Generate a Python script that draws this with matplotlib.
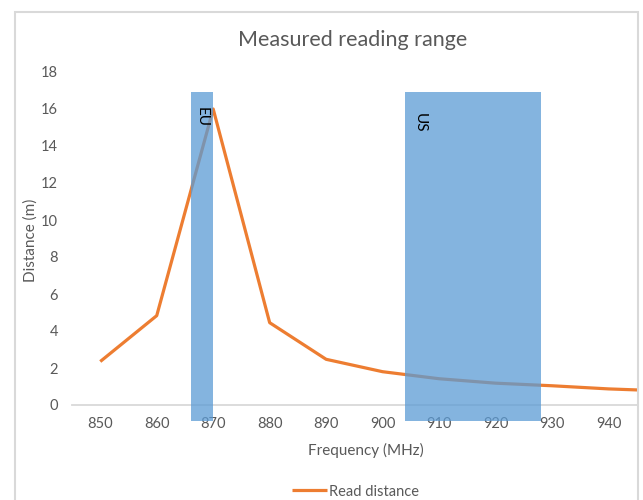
import matplotlib
matplotlib.use("Agg")
import matplotlib.pyplot as plt
from matplotlib.patches import Rectangle

# ---- data ----
freq_mhz = [850, 860, 870, 880, 890, 900, 910, 920, 930, 940, 950]
read_distance = [2.35, 4.83, 16.0, 4.45, 2.47, 1.8, 1.42, 1.18, 1.04, 0.87, 0.76]

band_names = ["EU", "US"]
band_start = [866, 904]
band_end = [870, 928]
band_low = [-0.88, -0.88]
band_high = [16.9, 16.9]
label_x = [868.0, 906.6]
label_y = [16.1, 15.8]

x_ticks = [850, 860, 870, 880, 890, 900, 910, 920, 930, 940]
y_ticks = [0, 2, 4, 6, 8, 10, 12, 14, 16, 18]

plt.rcParams["font.family"] = ["Lato", "DejaVu Sans"]
GREY = "#595959"

fig = plt.figure(figsize=(6.43, 5.0), dpi=100)
# chart-area border like the Excel frame
fig.patches.append(Rectangle((0.023, -0.1), 0.969, 1.076, transform=fig.transFigure,
                             fill=False, edgecolor="#D9D9D9", linewidth=1.5))

ax = fig.add_axes([0.112, 0.1456, 0.880, 0.7252])
ax.plot(freq_mhz, read_distance, color="#ED7D31", linewidth=2.3, zorder=2,
        label="Read distance", solid_capstyle="butt")

for name, s, e, lo, hi, lx, ly in zip(band_names, band_start, band_end, band_low,
                                      band_high, label_x, label_y):
    ax.bar(s, hi - lo, width=e - s, bottom=lo, align="edge", color="#5B9BD5",
           alpha=0.75, linewidth=0, zorder=3)
    ax.text(lx, ly, name, rotation=-90, ha="center", va="top", fontsize=11,
            color="black", zorder=4)

ax.set_xlim(845, 945.2)
ax.set_ylim(-1.2, 18.4)
ax.set_xticks(x_ticks)
ax.set_yticks(y_ticks)
for sp in ("top", "right", "left"):
    ax.spines[sp].set_visible(False)
ax.spines["bottom"].set_position(("data", 0))
ax.spines["bottom"].set_color("#D9D9D9")
ax.spines["bottom"].set_linewidth(1.3)
ax.spines["bottom"].set_zorder(1)
ax.tick_params(axis="x", length=0, pad=9.0, labelsize=10.5, labelcolor=GREY)
ax.tick_params(axis="y", length=0, pad=10, labelsize=10.5, labelcolor=GREY)

ax.set_xlabel("Frequency (MHz)", fontsize=11, color=GREY)
ax.xaxis.set_label_coords(0.569, 0.114, transform=fig.transFigure)
ax.set_ylabel("Distance (m)", fontsize=11, color=GREY)
ax.yaxis.set_label_coords(0.059, 0.52, transform=fig.transFigure)

fig.text(0.548, 0.92, "Measured reading range", ha="center", va="center",
         fontsize=15.5, color=GREY)

fig.legend(loc="center", bbox_to_anchor=(0.553, 0.017), frameon=False, fontsize=10.5,
           labelcolor=GREY, handlelength=2.4, handletextpad=0.1)

fig.savefig("out.png", dpi=100)
